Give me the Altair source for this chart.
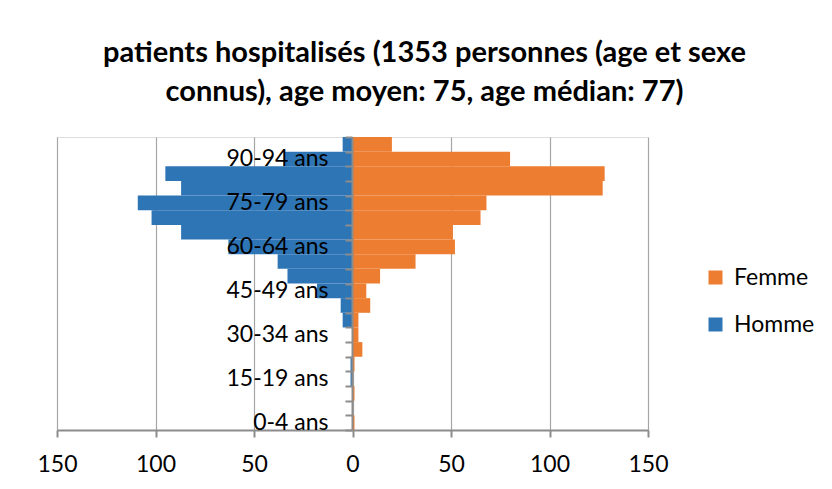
import altair as alt
import pandas as pd

ages = ["0-4 ans", "5-9 ans", "10-14 ans", "15-19 ans", "20-24 ans", "25-29 ans",
        "30-34 ans", "35-39 ans", "40-44 ans", "45-49 ans", "50-54 ans", "55-59 ans",
        "60-64 ans", "65-69 ans", "70-74 ans", "75-79 ans", "80-84 ans", "85-89 ans",
        "90-94 ans", "95-99 ans"]
homme = [0, 0, 0, 1, 1, 0, 0, 5, 6, 18, 33, 38, 63, 87, 102, 109, 87, 95, 35, 5]
femme = [1, 0, 1, 0, 1, 5, 3, 3, 9, 7, 14, 32, 52, 51, 65, 68, 127, 128, 80, 20]
shown_labels = ["0-4 ans", "15-19 ans", "30-34 ans", "45-49 ans", "60-64 ans",
                "75-79 ans", "90-94 ans"]
x_ticks = [-150, -100, -50, 0, 50, 100, 150]

rows = []
for a, h, f in zip(ages, homme, femme):
    rows.append({"age": a, "sexe": "Femme", "val": f})
    rows.append({"age": a, "sexe": "Homme", "val": -h})
df = pd.DataFrame(rows)

FONT = "Lato"
label_list = "[" + ",".join("'" + s + "'" for s in shown_labels) + "]"

chart = alt.Chart(df).mark_bar().encode(
    x=alt.X("val:Q", stack=None,
            scale=alt.Scale(domain=[-150, 150], nice=False),
            axis=alt.Axis(values=x_ticks, labelExpr="abs(datum.value)", title=None,
                          grid=True, gridColor="#a6a6a6", gridWidth=1.2,
                          domainColor="#8c8c8c", domainWidth=2,
                          tickColor="#8c8c8c", tickWidth=2, tickSize=7,
                          labelFont=FONT, labelFontSize=23, labelColor="#000000",
                          labelFlush=False, labelPadding=16)),
    y=alt.Y("age:N", sort=list(reversed(ages)),
            scale=alt.Scale(paddingInner=0, paddingOuter=0),
            axis=alt.Axis(title=None, orient="left", offset=-295,
                          labelExpr="indexof(" + label_list + ", datum.value) >= 0 ? datum.value : ''",
                          tickBand="extent", domainColor="#8c8c8c", domainWidth=2,
                          tickColor="#8c8c8c", tickWidth=2, tickSize=7,
                          labelFont=FONT, labelFontSize=23, labelColor="#000000",
                          labelPadding=17, grid=False, zindex=1)),
    color=alt.Color("sexe:N",
                    scale=alt.Scale(domain=["Femme", "Homme"], range=["#ED7D31", "#2E75B6"]),
                    legend=alt.Legend(title=None, orient="none", legendX=647, legendY=129,
                                      symbolType="square", symbolSize=196,
                                      symbolStrokeWidth=0, labelFont=FONT,
                                      labelFontSize=23, labelColor="#000000",
                                      rowPadding=23, labelOffset=7)),
).properties(
    width=591,
    height=293,
    title=alt.Title(["patients hospitalisés (1353 personnes (age et sexe",
                     "connus), age moyen: 75, age médian: 77)"],
                    font=FONT, fontSize=29, fontWeight="bold", color="#000000",
                    anchor="middle", dx=72, offset=19, lineHeight=39),
    autosize=alt.AutoSizeParams(type="none"),
    padding={"left": 49, "top": 129, "right": 176, "bottom": 59},
).configure_view(stroke=None).configure(background="white")

chart.save("out.html", embed_options={"renderer": "svg", "actions": False})
